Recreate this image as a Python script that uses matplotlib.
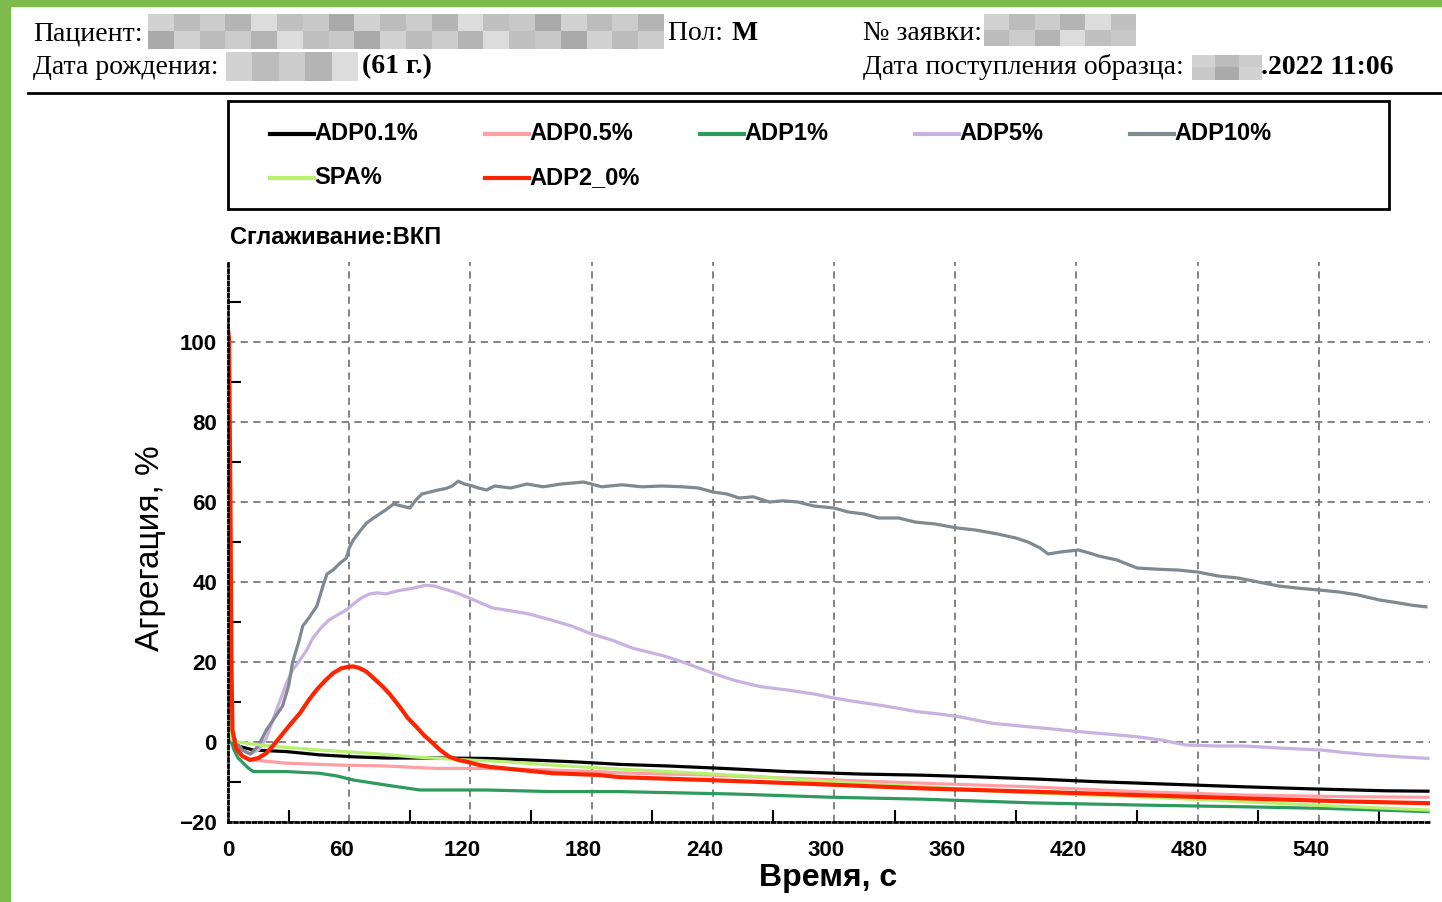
import matplotlib
matplotlib.use("Agg")
import matplotlib.pyplot as plt
from matplotlib.lines import Line2D
from matplotlib.patches import Rectangle
import matplotlib.transforms as mtransforms

W, H = 1442, 902

# ---------------- data ----------------
names = ["ADP0.1%", "ADP0.5%", "ADP1%", "ADP5%", "ADP10%", "SPA%", "ADP2_0%"]
colors = ["#000000", "#ff9ea4", "#2e9a5e", "#c8b2e0", "#808890", "#b8f070", "#ff2400"]

t_adp01 = [0, 1, 2, 5, 12.5, 29, 45, 62, 78, 100, 128, 150, 169, 184, 194, 218, 245, 277, 312, 344, 370, 402, 429, 463, 503, 535, 573, 594]
y_adp01 = [100, 10, 0, -1, -2, -2.4, -3.2, -3.7, -4, -4, -4.1, -4.5, -4.9, -5.3, -5.6, -6, -6.6, -7.4, -8, -8.3, -8.7, -9.3, -9.9, -10.5, -11.2, -11.7, -12.2, -12.3]

t_adp05 = [0, 1, 2, 5, 8, 12.5, 29, 54, 78, 103, 128, 160, 184, 194, 237, 290, 344, 397, 450, 503, 557, 594]
y_adp05 = [100, 5, 0, -2.5, -3.8, -4.5, -5.3, -5.75, -6, -6.6, -6.6, -7, -7.4, -7.7, -8.25, -9.3, -10.3, -11.2, -12.4, -13.25, -13.7, -13.8]

t_adp1 = [0, 1, 3, 5, 7.6, 10, 12.5, 29, 45, 54, 62, 78, 95, 128, 160, 194, 250, 298, 344, 397, 450, 503, 543, 594]
y_adp1 = [100, 1, -2, -4, -5.3, -6.5, -7.4, -7.4, -7.8, -8.5, -9.5, -10.75, -12, -12, -12.4, -12.4, -13, -13.8, -14.3, -15.2, -15.75, -16.2, -16.6, -17.4]

t_adp5 = [0, 1.5, 4, 7, 11, 15, 19, 24, 29, 32, 35.6, 39, 42, 46, 50, 55, 58.6, 62, 66, 70, 74, 78, 84, 91, 98, 102, 106, 112, 118, 124, 131, 140, 149, 160, 170, 180, 190, 200, 208, 216, 225, 233, 240, 250, 258, 264, 277, 290, 301, 312, 322, 331, 341, 352, 362, 370, 378, 392, 405, 421, 435, 450, 462, 474, 490, 503, 520, 541, 552, 565, 580, 594]
y_adp5 = [100, 3, 0, -2, -3, -2, 1, 8, 14.8, 18, 20.5, 23, 26, 28.5, 30.5, 32, 33, 34.5, 36, 37, 37.3, 37, 37.8, 38.4, 39.2, 39, 38.4, 37.5, 36.3, 35, 33.5, 32.8, 32, 30.5, 29, 27, 25.5, 23.5, 22.5, 21.5, 20, 18.5, 17.2, 15.5, 14.5, 13.8, 13, 12, 10.9, 10, 9.25, 8.5, 7.6, 7, 6.3, 5.5, 4.7, 4, 3.4, 2.6, 2, 1.3, 0.5, -0.75, -1, -1, -1.5, -2, -2.6, -3.2, -3.7, -4.1]

t_adp10 = [0, 1.5, 4, 7, 11, 15, 19, 23, 27, 30, 32, 35, 37, 40, 44, 47, 49, 52, 55, 58.6, 60, 62, 65, 68.5, 72, 75, 78, 82, 86, 90, 93, 96, 100, 104, 108, 111, 114, 117, 121, 124, 128, 132, 140, 148, 156, 165, 176, 185, 195, 205, 215, 225, 233, 240, 247, 253, 260, 268, 275, 282, 290, 300, 307, 315, 322, 332, 340, 350, 361, 370, 381, 390, 396, 402, 406, 412, 421, 428, 431, 440, 450, 460, 470, 480, 490, 500, 510, 520, 529, 540, 550, 559, 570, 579, 586, 593]
y_adp10 = [100, 3, 0, -2, -3, -1, 3, 6, 9, 14, 20, 25, 29, 31, 34, 39, 42, 43, 44.5, 46, 48.5, 50.5, 52.5, 54.7, 56, 57, 58, 59.5, 59, 58.5, 60.5, 62, 62.5, 63, 63.4, 64, 65.2, 64.5, 64, 63.5, 63, 64, 63.5, 64.5, 63.8, 64.5, 65, 63.8, 64.3, 63.8, 64, 63.8, 63.5, 62.5, 62, 61, 61.3, 60, 60.3, 60, 59, 58.5, 57.5, 57, 56, 56, 55, 54.5, 53.5, 53, 52, 51, 50, 48.5, 47, 47.5, 48, 47, 46.5, 45.5, 43.5, 43.2, 43, 42.5, 41.5, 41, 40, 39, 38.5, 38, 37.5, 36.8, 35.5, 34.8, 34.2, 33.8]

t_spa = [0, 1, 2, 5, 12, 20.7, 45, 70, 91, 111, 136, 160, 184, 218, 264, 298, 344, 397, 450, 503, 543, 594]
y_spa = [100, 3, 0.5, 0, -0.5, -1, -2, -2.8, -3.7, -4.3, -4.9, -5.75, -6.5, -7.4, -8.7, -9.9, -11.2, -12.7, -13.7, -14.9, -15.9, -17]

t_adp20 = [0, 0.5, 1.2, 1.7, 2.2, 4, 7, 10.9, 15, 19, 23, 27.3, 31, 35.6, 40, 43.8, 48, 52, 56, 59.4, 62, 65, 68.5, 72, 76.7, 80, 85, 89, 93.2, 97, 101.4, 105, 109.6, 114, 117.9, 124, 129.4, 145, 160.5, 184, 194, 237, 290, 344, 397, 450, 503, 557, 594]
y_adp20 = [103, 101, 60, 20, 3, -1.5, -3.5, -4.5, -4, -2.8, -0.5, 2.2, 4.5, 7.2, 10.5, 13, 15.3, 17.2, 18.4, 18.8, 18.9, 18.5, 17.6, 16, 13.8, 12, 8.8, 6, 3.8, 1.7, -0.3, -2, -3.7, -4.5, -4.9, -5.7, -6.2, -7, -7.8, -8.25, -8.8, -9.5, -10.5, -11.6, -12.4, -13.25, -14.1, -14.9, -15.3]

series_t = [t_adp01, t_adp05, t_adp1, t_adp5, t_adp10, t_spa, t_adp20]
series_y = [y_adp01, y_adp05, y_adp1, y_adp5, y_adp10, y_spa, y_adp20]

x_ticks = [0, 60, 120, 180, 240, 300, 360, 420, 480, 540]
y_ticks = [-20, 0, 20, 40, 60, 80, 100]

# ---------------- figure ----------------
fig = plt.figure(figsize=(W / 100, H / 100), dpi=100)
fig.patch.set_facecolor("white")

def fx(px):
    return px / W

def fy(py):
    return 1 - py / H

# green frame
fig.add_artist(Rectangle((0, 0), fx(10), 1, transform=fig.transFigure, color="#7cbb4c", zorder=0))
fig.add_artist(Rectangle((0, fy(6)), 1, fy(0) - fy(6), transform=fig.transFigure, color="#7cbb4c", zorder=0))

# header
serif = "Liberation Serif"
hs = 20
fig.text(fx(33), fy(34), "Пациент:", family=serif, fontsize=hs, va="center", ha="left")
fig.text(fx(668), fy(34), "Пол: ", family=serif, fontsize=hs, va="center", ha="left")
fig.text(fx(732), fy(34), "M", family=serif, fontsize=hs, fontweight="bold", va="center", ha="left")
fig.text(fx(863), fy(34), "№ заявки:", family=serif, fontsize=hs, va="center", ha="left")
fig.text(fx(33), fy(67), "Дата рождения:", family=serif, fontsize=hs, va="center", ha="left")
fig.text(fx(362), fy(67), "(61 г.)", family=serif, fontsize=hs, fontweight="bold", va="center", ha="left")
fig.text(fx(863), fy(67), "Дата поступления образца:", family=serif, fontsize=hs, va="center", ha="left")
fig.text(fx(1261), fy(67), ".2022 11:06", family=serif, fontsize=hs, fontweight="bold", va="center", ha="left")

# redaction mosaics
shades = ["#d2d2d2", "#b4b4b4", "#c8c8c8", "#bcbcbc", "#dcdcdc", "#aaaaaa", "#cccccc", "#c0c0c0"]
def mosaic(x0, y0, x1, y1, ncols):
    cw = (x1 - x0) / ncols
    rh = (y1 - y0) / 2
    k = 0
    for r in range(2):
        for c in range(ncols):
            fig.add_artist(Rectangle((fx(x0 + c * cw), fy(y0 + (r + 1) * rh)), cw / W, rh / H,
                                     transform=fig.transFigure, color=shades[(k * 3 + r) % len(shades)], lw=0))
            k += 1
mosaic(148, 14, 664, 49, 20)
mosaic(226, 52, 358, 81, 5)
mosaic(984, 14, 1136, 46, 6)
mosaic(1192, 55, 1262, 80, 3)

fig.add_artist(Line2D([fx(28), fx(1442)], [fy(93), fy(93)], transform=fig.transFigure, color="black", lw=2))

# legend box (manual)
fig.add_artist(Rectangle((fx(228), fy(209)), (1389 - 228) / W, (209 - 101) / H, transform=fig.transFigure,
                         fill=False, edgecolor="black", lw=2))
sans = "Liberation Sans"
for i, (nm, col) in enumerate(zip(names, colors)):
    row, c = divmod(i, 5)
    x0 = 270 + 215 * c
    yy = 134 + 44 * row
    fig.add_artist(Line2D([fx(x0), fx(x0 + 44)], [fy(yy), fy(yy)], transform=fig.transFigure, color=col, lw=3))
    fig.text(fx(x0 + 44), fy(yy), nm, family=sans, fontsize=17, fontweight="bold", va="center", ha="left")

# plot axes
ax = fig.add_axes([fx(228), fy(822), (1430 - 228) / W, (822 - 262) / H])
for nm, col, tt, yy in zip(names, colors, series_t, series_y):
    lw = 3.0 if nm == "ADP2_0%" else 2.3
    ax.plot(tt, yy, color=col, lw=lw, label=nm, solid_joinstyle="round")

ax.set_xlim(0, 595)
ax.set_ylim(-20, 120)
ax.set_xticks(x_ticks)
ax.set_yticks(y_ticks)
ax.tick_params(axis="both", length=0, labelsize=16)
ax.tick_params(axis="x", pad=13)
ax.tick_params(axis="y", pad=8)
for lab in ax.get_xticklabels() + ax.get_yticklabels():
    lab.set_fontfamily(sans)
    lab.set_fontweight("bold")
offset = mtransforms.ScaledTranslation(-8 / 100, 0, fig.dpi_scale_trans)
for lab in ax.get_xticklabels()[1:]:
    lab.set_transform(lab.get_transform() + offset)

ax.grid(True, color="#7a7a7a", linestyle=(0, (4, 3)), lw=1.3)
ax.spines["top"].set_visible(False)
ax.spines["right"].set_visible(False)
for s in ("left", "bottom"):
    ax.spines[s].set_linestyle((0, (1, 1.2)))
    ax.spines[s].set_linewidth(2)

# intermediate tick marks
secx = ax.secondary_xaxis("bottom")
secx.set_xticks([30, 90, 150, 210, 270, 330, 390, 450, 510, 570])
secx.tick_params(direction="in", length=9, width=1.5, labelbottom=False)
secx.spines["bottom"].set_visible(False)
secy = ax.secondary_yaxis("left")
secy.set_yticks([-10, 10, 30, 50, 70, 90, 110])
secy.tick_params(direction="in", length=9, width=1.5, labelleft=False)
secy.spines["left"].set_visible(False)

fig.text(fx(230), fy(238), "Сглаживание:ВКП", family=sans, fontsize=17, fontweight="bold", va="center", ha="left")
fig.text(fx(150), fy(548), "Агрегация, %", family=sans, fontsize=24, rotation=90, va="center", ha="center")
fig.text(fx(828), fy(878), "Время, с", family=sans, fontsize=23, fontweight="bold", va="center", ha="center")

fig.savefig("out.png", dpi=100)
